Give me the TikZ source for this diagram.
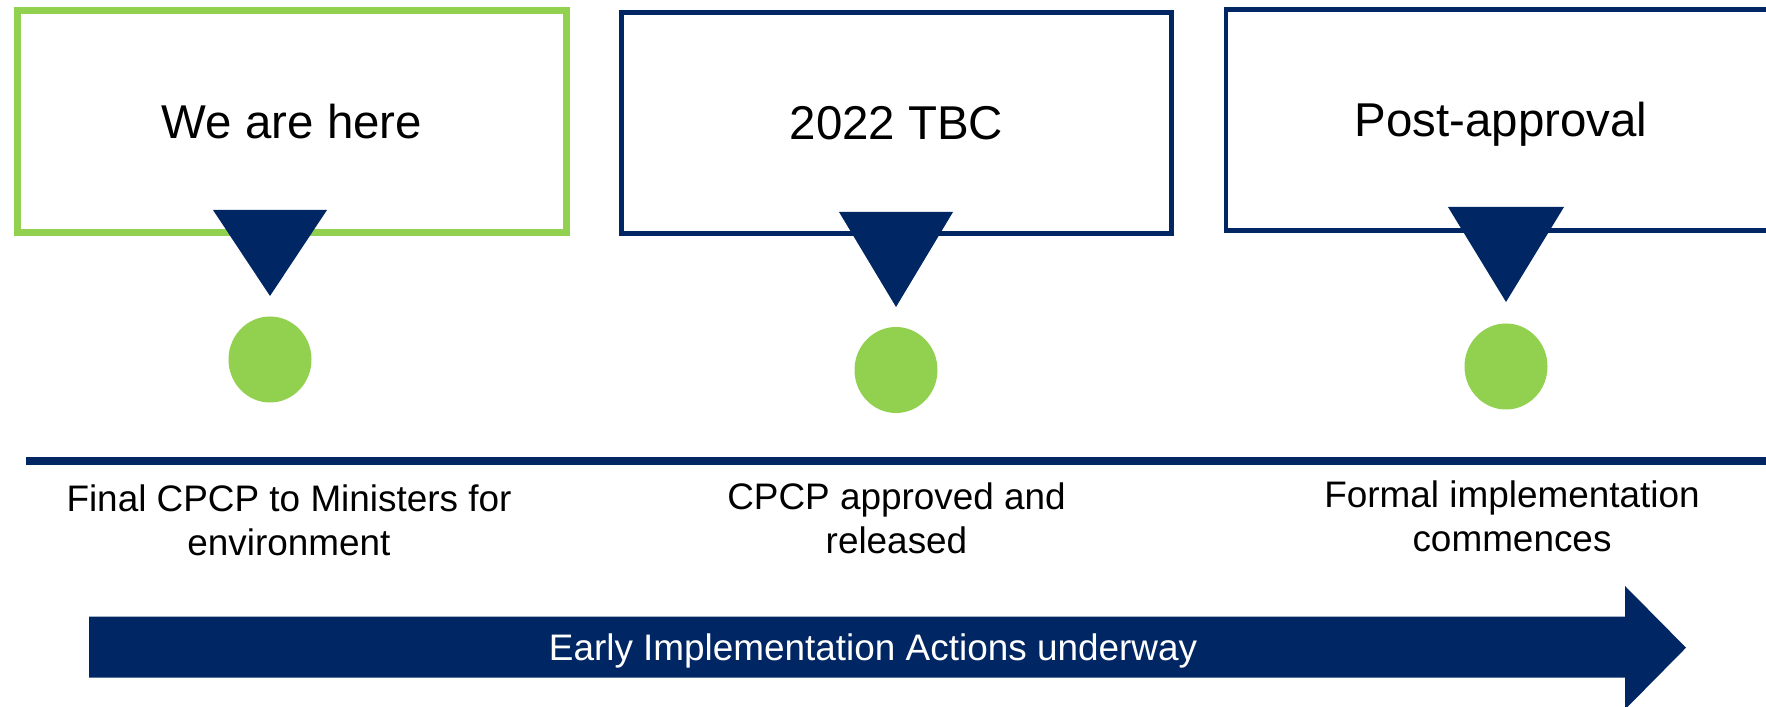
\documentclass[tikz,border=0pt]{standalone}
\usepackage{fontspec}
\setmainfont{Liberation Sans}
\usetikzlibrary{shapes.geometric}
\definecolor{navy}{RGB}{0,38,99}
\definecolor{leaf}{RGB}{146,208,80}
\begin{document}
\begin{tikzpicture}[stage/.style={draw=navy,line width=2.8pt,minimum width=11.0cm,minimum height=4.42cm,inner sep=0,text height=0.68cm,text depth=0pt,font=\fontsize{27}{32}\selectfont},
    dot/.style={fill=leaf,ellipse,minimum width=1.66cm,minimum height=1.72cm,inner sep=0},
    caption/.style={align=center,font=\fontsize{21}{25}\selectfont,inner sep=0}]
        \useasboundingbox (0,0) rectangle (35.32,14.14);
        \clip (0,0) rectangle (35.32,14.14);
        \node[stage,draw=leaf,line width=4.2pt,minimum width=10.98cm,minimum height=4.43cm] (b1) at (5.84,11.71) {We are here};
        \node[stage] (b2) at (17.93,11.68) {2022 TBC};
        \node[stage] (b3) at (30.02,11.746) {Post-approval};
        \fill[navy] (4.26,9.94) -- (6.54,9.94) -- (5.4,8.22) -- cycle;
        \fill[navy] (16.78,9.90) -- (19.06,9.90) -- (17.92,8.0) -- cycle;
        \fill[navy] (28.96,10.0) -- (31.28,10.0) -- (30.12,8.10) -- cycle;
        \node[dot] (d1) at (5.4,6.95) {};
        \node[dot] (d2) at (17.92,6.74) {};
        \node[dot] (d3) at (30.12,6.81) {};
        \coordinate (t0) at (0.52,4.92);
        \coordinate (t1) at (35.5,4.92);
        \draw[navy,line width=4.4pt] (t0) -- (t1);
        \node[caption] (c1) at (5.78,3.74) {Final CPCP to Ministers for\\environment};
        \node[caption] (c2) at (17.93,3.78) {CPCP approved and\\released};
        \node[caption] (c3) at (30.24,3.82) {Formal implementation\\commences};
        \fill[navy] (1.78,1.806) -- (32.5,1.806) -- (32.5,2.42) -- (33.72,1.186) -- (32.5,-0.05) -- (32.5,0.586) -- (1.78,0.586) -- cycle;
        \node[anchor=base,text=white,inner sep=0,font=\fontsize{21}{25}\selectfont] (a) at (17.46,0.926) {Early Implementation Actions underway};
      \end{tikzpicture}
\end{document}
